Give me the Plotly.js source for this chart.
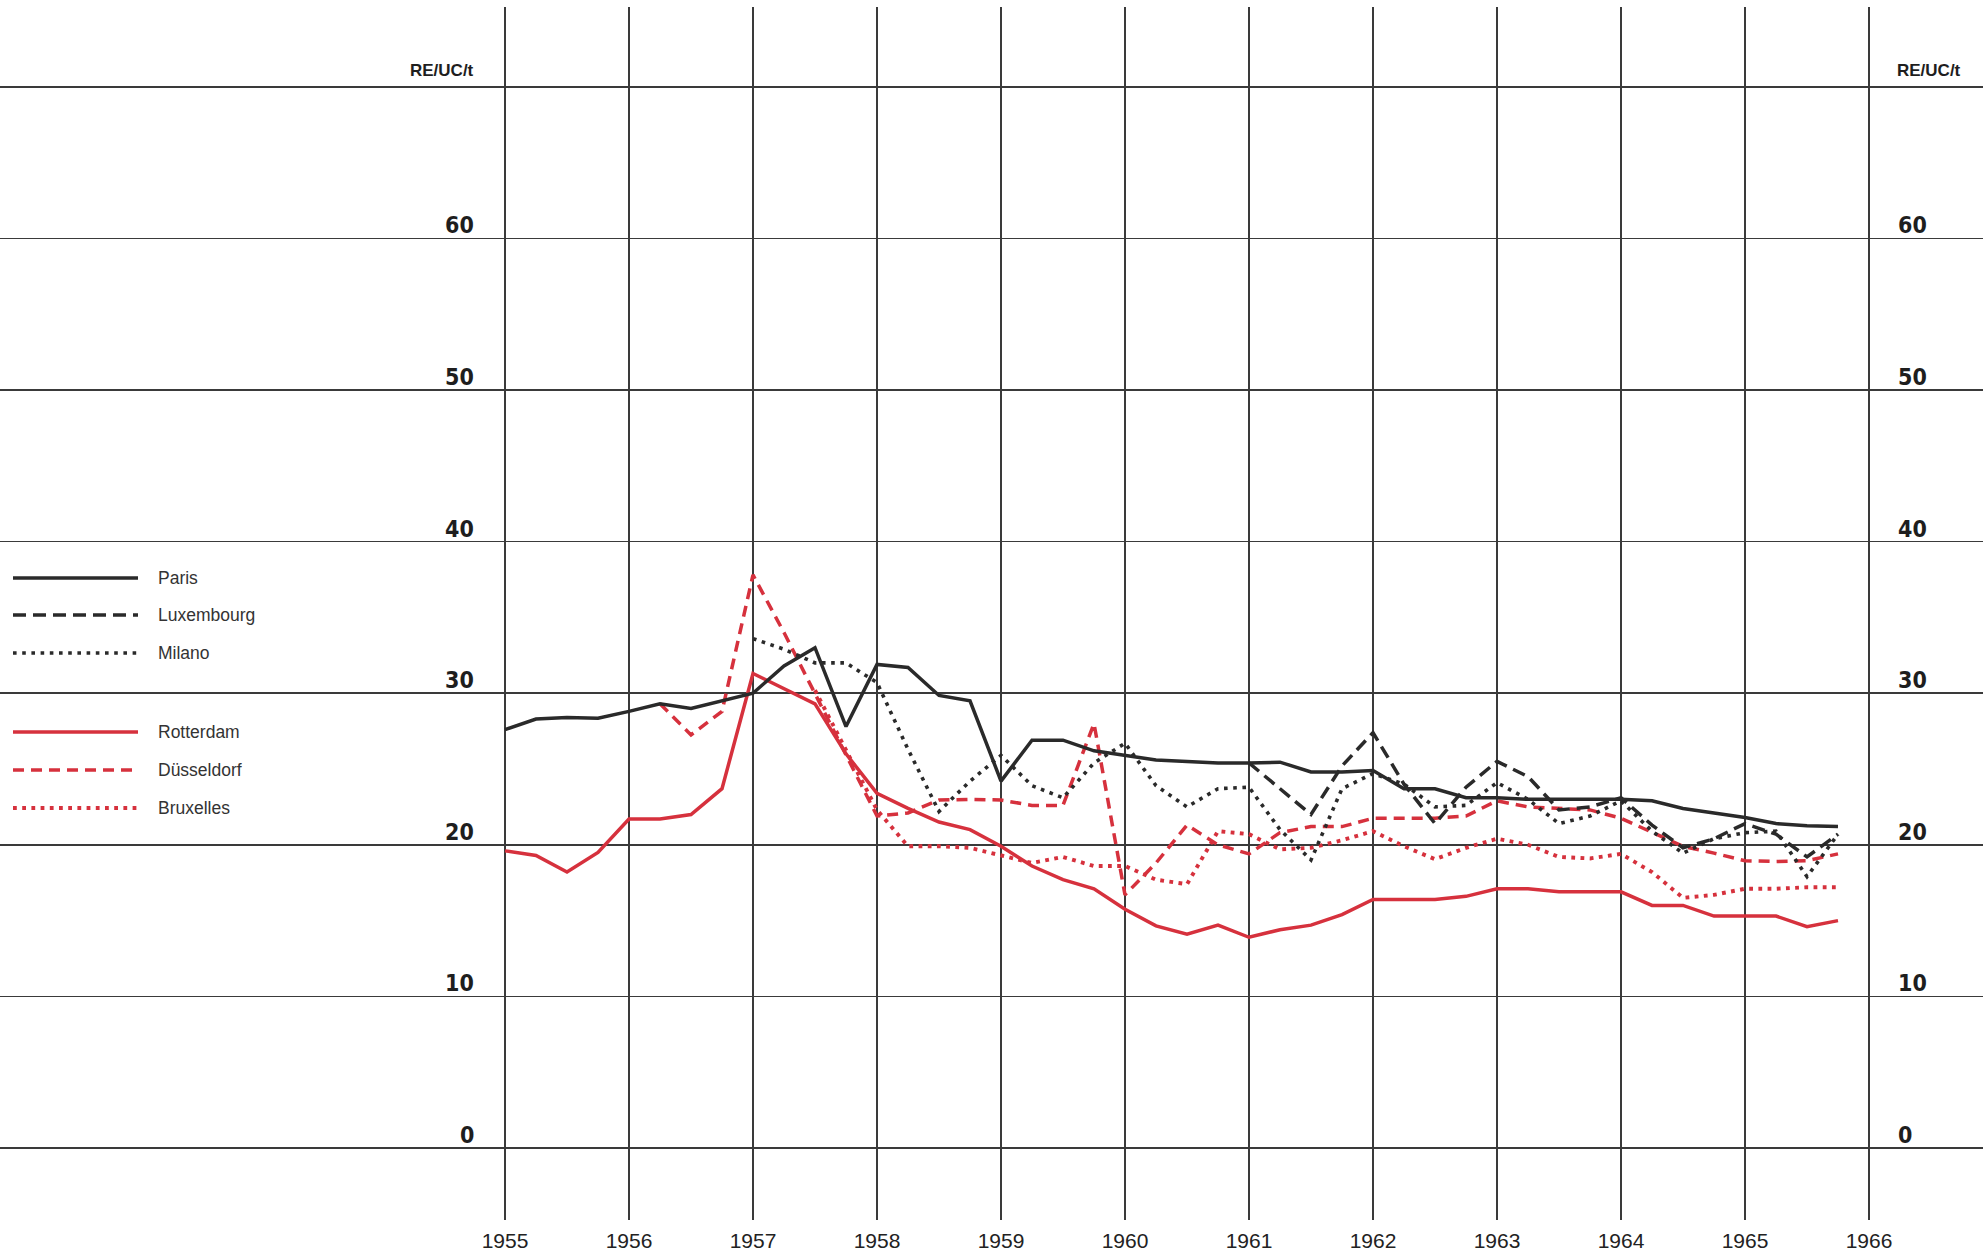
<!DOCTYPE html>
<html>
<head>
<meta charset="utf-8">
<script src="https://cdn.plot.ly/plotly-3.0.1.min.js"></script>
<style>
html,body{margin:0;padding:0;background:#ffffff;}
#chart{width:1983px;height:1255px;}
</style>
</head>
<body>
<div id="chart"></div>
<script>
// ---------------- DATA ----------------
const quarters = [
  1955, 1955.25, 1955.5, 1955.75,
  1956, 1956.25, 1956.5, 1956.75,
  1957, 1957.25, 1957.5, 1957.75,
  1958, 1958.25, 1958.5, 1958.75,
  1959, 1959.25, 1959.5, 1959.75,
  1960, 1960.25, 1960.5, 1960.75,
  1961, 1961.25, 1961.5, 1961.75,
  1962, 1962.25, 1962.5, 1962.75,
  1963, 1963.25, 1963.5, 1963.75,
  1964, 1964.25, 1964.5, 1964.75,
  1965, 1965.25, 1965.5, 1965.75
];

const paris = [
  27.6, 28.3, 28.4, 28.35,
  28.8, 29.3, 29.0, 29.5,
  30.0, 31.8, 33.0, 27.8,
  31.9, 31.7, 29.85, 29.5,
  24.2, 26.9, 26.9, 26.2,
  25.9, 25.6, 25.5, 25.4,
  25.4, 25.45, 24.8, 24.8,
  24.9, 23.7, 23.7, 23.1,
  23.1, 23.0, 23.0, 23.0,
  23.0, 22.9, 22.4, 22.1,
  21.8, 21.4, 21.25, 21.2
];

const luxembourg = [
  null, null, null, null,
  null, null, null, null,
  null, null, null, null,
  null, null, null, null,
  null, null, null, null,
  null, null, null, null,
  25.4, 23.7, 22.0, 25.2,
  27.4, 24.0, 21.4, 23.8,
  25.5, 24.5, 22.3, 22.5,
  23.1, 21.3, 19.8, 20.4,
  21.4, 20.7, 19.2, 20.7
];

const milano = [
  null, null, null, null,
  null, null, null, null,
  33.6, 32.9, 32.0, 32.0,
  30.7, 26.3, 22.2, 24.2,
  25.9, 23.9, 23.1, 25.4,
  26.7, 23.9, 22.5, 23.7,
  23.8, 21.0, 19.0, 23.7,
  24.7, 24.0, 22.5, 22.6,
  24.1, 23.0, 21.4, 21.9,
  22.9, 20.9, 19.45, 20.4,
  20.8, 20.9, 17.9, 20.7
];

const rotterdam = [
  19.6, 19.3, 18.2, 19.5,
  21.7, 21.7, 22.0, 23.7,
  31.3, 30.3, 29.3, 26.0,
  23.4, 22.4, 21.5, 21.0,
  19.9, 18.6, 17.7, 17.1,
  15.75, 14.65, 14.1, 14.7,
  13.9, 14.4, 14.7, 15.4,
  16.4, 16.4, 16.4, 16.6,
  17.1, 17.1, 16.9, 16.9,
  16.9, 16.0, 16.0, 15.3,
  15.3, 15.3, 14.6, 15.0
];

const dusseldorf = [
  null, null, null, null,
  null, 29.3, 27.25, 28.8,
  37.8, 34.0, 30.0, 26.0,
  21.9, 22.1, 22.95, 23.0,
  22.95, 22.6, 22.6, 28.0,
  16.7, 18.8, 21.3, 20.0,
  19.4, 20.8, 21.2, 21.2,
  21.75, 21.75, 21.75, 21.9,
  22.9, 22.5, 22.4, 22.3,
  21.75, 20.8, 19.9, 19.45,
  18.95, 18.9, 18.95, 19.4
];

const bruxelles = [
  null, null, null, null,
  null, null, null, null,
  null, null, 30.2, 26.2,
  22.3, 19.9, 19.9, 19.8,
  19.3, 18.8, 19.2, 18.6,
  18.6, 17.7, 17.4, 20.9,
  20.7, 19.7, 19.8, 20.3,
  20.9, 19.9, 19.05, 19.8,
  20.4, 20.0, 19.2, 19.1,
  19.4, 18.2, 16.5, 16.7,
  17.1, 17.1, 17.2, 17.2
];

const seriesNames = ['Paris', 'Luxembourg', 'Milano', 'Rotterdam', 'Düsseldorf', 'Bruxelles'];
const yearTicks = [1955, 1956, 1957, 1958, 1959, 1960, 1961, 1962, 1963, 1964, 1965, 1966];
const yearLabels = ['1955', '1956', '1957', '1958', '1959', '1960', '1961', '1962', '1963', '1964', '1965', '1966'];
const yGridValues = [0, 10, 20, 30, 40, 50, 60, 70];
const yTickValues = [0, 10, 20, 30, 40, 50, 60];
const yTickLabels = ['0', '10', '20', '30', '40', '50', '60'];
const unitLabel = 'RE/UC/t';

// ---------------- STYLE ----------------
const W = 1983, H = 1255;
const marginTop = 7, marginBottom = 35;
const plotH = H - marginTop - marginBottom;
const BLACK = '#2a2a2a';
const RED = '#d6313d';

const styles = {
  'Paris':      {color: BLACK, width: 3.5, dash: 'solid'},
  'Luxembourg': {color: BLACK, width: 3.5, dash: '13px,7px'},
  'Milano':     {color: BLACK, width: 3.6, dash: '3.6px,5.6px'},
  'Rotterdam':  {color: RED,   width: 3.5, dash: 'solid'},
  'Düsseldorf': {color: RED,   width: 3.5, dash: '11px,7px'},
  'Bruxelles':  {color: RED,   width: 3.9, dash: '3.8px,5.4px'}
};

const seriesData = {
  'Paris': paris, 'Luxembourg': luxembourg, 'Milano': milano,
  'Rotterdam': rotterdam, 'Düsseldorf': dusseldorf, 'Bruxelles': bruxelles
};

const drawOrder = ['Bruxelles', 'Düsseldorf', 'Rotterdam', 'Milano', 'Luxembourg', 'Paris'];

const traces = drawOrder.map(name => ({
  type: 'scatter',
  mode: 'lines',
  name: name,
  x: quarters,
  y: seriesData[name],
  connectgaps: false,
  line: {color: styles[name].color, width: styles[name].width, dash: styles[name].dash},
  showlegend: false,
  hoverinfo: 'skip'
}));

// x-range so 1955 sits at ~505px and 1966 at ~1869px on a full-width plot
const pxPerYear = 124.0;
const x1955px = 505;
const xRange = [1955 - x1955px / pxPerYear, 1955 + (W - x1955px) / pxPerYear];
// y-range so 0 sits at ~1148px and 70 at ~87px
const pxPerUnit = 15.16;
const y0px = 1148;
const yRange = [-(H - marginBottom - y0px) / pxPerUnit, (y0px - marginTop) / pxPerUnit];

const labelFont = {family: '"DejaVu Sans Condensed", "Liberation Sans Narrow", "Liberation Sans", sans-serif',
  size: 23, color: '#1e1e1e', weight: 'bold', stretch: 'condensed'};
const unitFont = {family: '"Liberation Sans", Arial, sans-serif', size: 17, color: '#1e1e1e', weight: 'bold'};

const annotations = [];
yTickValues.forEach((v, i) => {
  annotations.push({x: 1955, y: v, xref: 'x', yref: 'y', text: '<b>' + yTickLabels[i] + '</b>', showarrow: false,
    xanchor: 'right', yanchor: 'bottom', xshift: -29, yshift: -2, font: labelFont});
  annotations.push({x: 1966, y: v, xref: 'x', yref: 'y', text: '<b>' + yTickLabels[i] + '</b>', showarrow: false,
    xanchor: 'left', yanchor: 'bottom', xshift: 27, yshift: -2, font: labelFont});
});
annotations.push({x: 1955, y: 70, xref: 'x', yref: 'y', text: '<b>' + unitLabel + '</b>', showarrow: false,
  xanchor: 'right', yanchor: 'bottom', xshift: -29, yshift: 5, font: unitFont});
annotations.push({x: 1966, y: 70, xref: 'x', yref: 'y', text: '<b>' + unitLabel + '</b>', showarrow: false,
  xanchor: 'left', yanchor: 'bottom', xshift: 26, yshift: 5, font: unitFont});

// hand-drawn style key at the left
const keyRowsPx = [578, 615, 653, 732, 770, 808];
const keyLineX = [13, 138];
const keyTextX = 156;
const toPaperY = py => (H - marginBottom - py) / plotH;
const shapes = [];
seriesNames.forEach((name, i) => {
  const py = toPaperY(keyRowsPx[i]);
  shapes.push({type: 'line', xref: 'paper', yref: 'paper',
    x0: keyLineX[0] / W, x1: keyLineX[1] / W, y0: py, y1: py,
    line: {color: styles[name].color, width: styles[name].width, dash: styles[name].dash}});
  annotations.push({xref: 'paper', yref: 'paper', x: keyTextX / W, y: py, text: name, showarrow: false,
    xanchor: 'left', yanchor: 'middle',
    font: {family: '"Liberation Sans", Arial, sans-serif', size: 17.5, color: '#333333'}});
});

const layout = {
  width: W, height: H,
  margin: {l: 0, r: 0, t: marginTop, b: marginBottom, pad: 0},
  paper_bgcolor: '#ffffff',
  plot_bgcolor: '#ffffff',
  showlegend: false,
  hovermode: false,
  xaxis: {
    range: xRange, tickmode: 'array', tickvals: yearTicks, ticktext: yearLabels,
    showgrid: true, gridcolor: '#3a3a3a', gridwidth: 1.5,
    zeroline: false, showline: false,
    ticks: 'outside', ticklen: 2, tickcolor: 'rgba(0,0,0,0)',
    tickfont: {family: '"Liberation Sans", Arial, sans-serif', size: 21, color: '#222222'},
    fixedrange: true
  },
  yaxis: {
    range: yRange, tickmode: 'array', tickvals: yGridValues,
    showticklabels: false, showgrid: true, gridcolor: '#3a3a3a', gridwidth: 1.5,
    zeroline: false, showline: false, fixedrange: true
  },
  shapes: shapes,
  annotations: annotations
};

Plotly.newPlot('chart', traces, layout, {staticPlot: true, displayModeBar: false});
</script>
</body>
</html>
